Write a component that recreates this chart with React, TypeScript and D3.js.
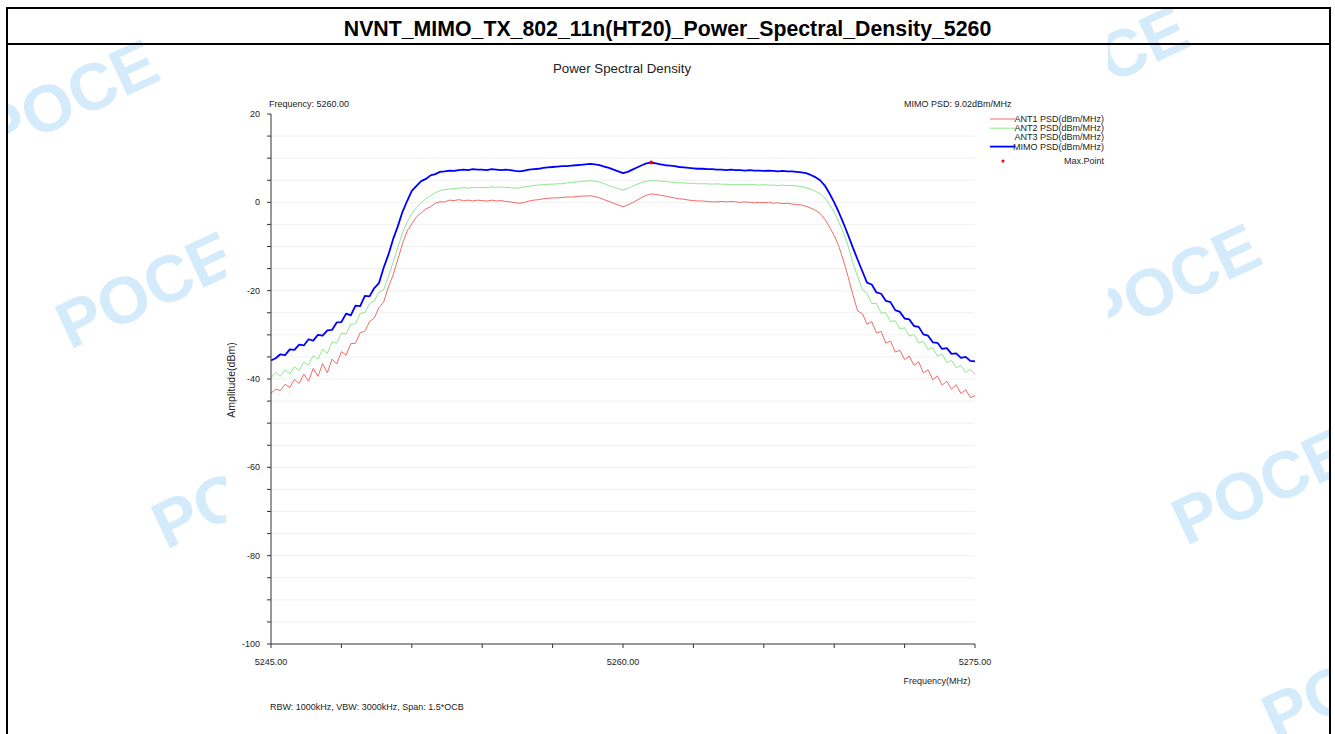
import * as d3 from 'd3'

const TITLE = 'NVNT_MIMO_TX_802_11n(HT20)_Power_Spectral_Density_5260'
const CHART_TITLE = 'Power Spectral Density'
const CENTER_LABEL = 'Frequency: 5260.00'
const PSD_LABEL = 'MIMO PSD: 9.02dBm/MHz'
const FOOTNOTE = 'RBW: 1000kHz, VBW: 3000kHz, Span: 1.5*OCB'

// sweep: 5245 MHz .. 5275 MHz, one point every 0.2 MHz
const FREQ_START = 5245
const FREQ_STEP = 0.2

const ant1 = [
  -43.2, -42.3, -42.6, -41.2, -41.9, -40.1, -41.0, -38.9, -40.5, -37.6, -39.4, -36.5, -38.6, -35.5, -36.6, -33.8,
  -34.6, -32.0, -31.9, -29.5, -29.2, -27.0, -26.2, -23.8, -22.6, -19.2, -16.5, -13.0, -9.4, -6.5, -4.9, -3.3,
  -2.4, -1.5, -1.0, -0.2, 0.1, 0.1, 0.5, 0.4, 0.6,
  0.4, 0.5, 0.3, 0.5, 0.4, 0.3, 0.5, 0.3, 0.4, 0.2, 0.1, -0.1, -0.2, 0.0, 0.3, 0.5, 0.6, 0.8, 0.9, 1.0,
  1.0, 1.1, 1.2, 1.2, 1.3, 1.4, 1.4, 1.5, 1.3, 1.0, 0.6, 0.2, -0.2, -0.6, -1.0, -0.6, -0.1, 0.5, 1.1, 1.6,
  1.9, 1.8, 1.6, 1.4, 1.2, 1.0, 0.8, 0.7, 0.5, 0.4, 0.3, 0.3, 0.2, 0.1, 0.1, 0.2, 0.1, 0.2, 0.1, 0.0,
  0.1, 0.0, -0.1, 0.0, -0.1, 0.0, -0.2, -0.1, -0.3, -0.2, -0.4, -0.5, -0.6, -0.9, -1.3, -1.8, -2.5, -3.8,
  -5.6, -7.5, -10.0, -13.3, -17.0,
  -21.0, -24.6, -25.2, -27.6, -27.0, -29.6, -29.2, -31.9, -31.4, -33.9, -33.5, -35.6, -34.8, -36.9, -36.1,
  -38.6, -37.9, -40.2, -39.3, -41.4, -40.5, -42.3, -41.3, -43.3, -42.4, -44.2, -43.8,
]

const ant2 = [
  -39.7, -38.5, -39.4, -37.9, -38.8, -37.2, -38.1, -36.2, -36.9, -34.7, -35.5, -33.3, -34.2, -31.6, -31.9, -29.6,
  -29.8, -27.6, -27.5, -25.2, -24.9, -23.0, -22.3, -20.4, -19.8,
  -16.9, -13.6, -10.3, -7.0, -4.4, -2.6, -1.2, -0.1, 0.8, 1.5, 2.2, 2.6, 2.9, 3.0, 3.1, 3.2,
  3.3, 3.2, 3.4, 3.3, 3.4, 3.3, 3.5, 3.4, 3.5, 3.4, 3.3, 3.2, 3.3, 3.5, 3.6, 3.8, 3.9, 4.0, 4.1, 4.1,
  4.2, 4.2, 4.4, 4.5, 4.6, 4.7, 4.8, 4.9, 4.8, 4.6, 4.2, 3.8, 3.4, 3.1, 2.8, 3.1, 3.6, 4.1, 4.5, 4.8,
  4.9, 4.9, 4.8, 4.7, 4.6, 4.5, 4.4, 4.4, 4.3, 4.3, 4.2, 4.2, 4.2, 4.1, 4.2, 4.1, 4.1, 4.0, 4.1, 4.0,
  4.0, 4.1, 4.0, 3.9, 4.0, 3.9, 3.9, 3.8, 3.9, 3.8, 3.8, 3.7, 3.6, 3.3, 3.0, 2.5, 2.0, 1.0, -0.5, -2.2,
  -4.5, -7.0, -10.0, -13.8, -16.8, -19.8,
  -20.6, -22.9, -22.9, -25.1, -25.0, -27.0, -26.8, -28.7, -28.4, -30.3, -29.9, -31.8, -31.5, -33.3, -32.9,
  -34.8, -34.4, -36.3, -35.8, -37.5, -36.9, -38.5, -37.8, -38.9,
]

const mimo = [
  -35.8, -35.3, -34.4, -34.6, -33.3, -33.4, -32.2, -32.4, -31.0, -31.3, -30.0, -30.2, -29.0,
  -28.9, -27.2, -27.1, -25.2, -25.6, -23.4, -23.5, -21.2, -21.3, -19.4, -18.3,
  -14.8, -11.9, -8.4, -5.5, -2.2, 0.3, 2.6, 3.7, 4.8, 5.3, 6.1, 6.4, 6.9, 7.0, 7.2, 7.1, 7.3,
  7.4, 7.3, 7.5, 7.4, 7.4, 7.3, 7.5, 7.4, 7.3, 7.4, 7.3, 7.1, 7.0, 7.2, 7.4, 7.5, 7.6, 7.8, 7.9, 8.0,
  8.1, 8.2, 8.2, 8.3, 8.4, 8.5, 8.6, 8.7, 8.6, 8.4, 8.1, 7.8, 7.4, 7.0, 6.6, 6.9, 7.4, 7.9, 8.4, 8.8,
  9.02, 8.8, 8.6, 8.4, 8.3, 8.2, 8.0, 7.9, 7.8, 7.7, 7.6, 7.6, 7.5, 7.5, 7.4, 7.4, 7.3, 7.4, 7.3, 7.3,
  7.2, 7.3, 7.2, 7.2, 7.1, 7.2, 7.1, 7.0, 7.1, 7.0, 7.0, 6.9, 6.8, 6.6, 6.2, 5.7, 5.0, 3.8, 2.0, 0.0,
  -2.3, -4.8, -7.5, -10.3, -13.0, -15.6, -18.2, -18.6, -20.4, -20.7, -22.3, -22.6, -24.4, -24.8, -26.3,
  -26.5, -28.0, -28.2, -29.9, -30.2, -31.7, -31.8, -33.2, -33.0, -34.3, -34.2, -35.2, -35.0, -35.9, -36.0,
]

const xTickLabels = [5245, 5260, 5275]
const yTickLabels = [20, 0, -20, -40, -60, -80, -100]

const legendNames = ['ANT1 PSD(dBm/MHz)', 'ANT2 PSD(dBm/MHz)', 'ANT3 PSD(dBm/MHz)', 'MIMO PSD(dBm/MHz)']
const legendColors = ['#f26a6a', '#8ee88e', '#ffffff', '#0000ff']

const watermarks: [number, number][] = [
  [-6, 158], [70, 350], [166, 550], [1024, 124], [1096, 342], [1186, 546], [1276, 742],
]

const W = 1335
const H = 734
const FONT = '"Liberation Sans", Arial, Helvetica, sans-serif'

export default function App() {
  const x = d3.scaleLinear().domain([5245, 5275]).range([271, 975])
  const y = d3.scaleLinear().domain([-100, 20]).range([644, 114])

  const freqs = mimo.map((_, i) => FREQ_START + i * FREQ_STEP)
  const line = d3.line<number>()
    .x((_, i) => x(freqs[i]))
    .y(d => y(d))

  const series = [
    { values: ant1, color: legendColors[0], width: 1 },
    { values: ant2, color: legendColors[1], width: 1 },
    { values: mimo, color: legendColors[3], width: 1.8 },
  ]

  const maxIdx = d3.maxIndex(mimo)
  const gridValues = d3.range(-95, 20, 5)
  const yMinor = d3.range(-100, 21, 5)
  const xMinor = d3.range(5245, 5275.01, 3)

  return (
    <svg width={W} height={H} style={{ position: 'absolute', left: 0, top: 0, background: '#fff' }}
      fontFamily={FONT}>
      <defs>
        <clipPath id="box"><rect x={7} y={8} width={1322} height={H - 8} /></clipPath>
      </defs>

      {/* watermark layer */}
      <g clipPath="url(#box)">
        {watermarks.map(([wx, wy], i) => (
          <text key={i} x={wx} y={wy} transform={`rotate(-25 ${wx} ${wy})`}
            fontSize={66} fontWeight="bold" fill="#d3ebfa">POCE</text>
        ))}
      </g>

      {/* chart image area */}
      <rect x={226} y={9} width={882} height={H - 9} fill="#fff" />

      {/* grid */}
      {gridValues.map(v => (
        <line key={v} x1={x(5245) + 1} x2={x(5275)} y1={y(v)} y2={y(v)} stroke="#f1f1f1" strokeWidth={1} />
      ))}

      {/* series */}
      {series.map((s, i) => (
        <path key={i} d={line(s.values) ?? ''} fill="none" stroke={s.color} strokeWidth={s.width}
          strokeLinejoin="round" />
      ))}
      <circle cx={x(freqs[maxIdx])} cy={y(mimo[maxIdx])} r={2} fill="#ff0000" />

      {/* axes */}
      <line x1={x(5245)} x2={x(5245)} y1={y(20)} y2={y(-100)} stroke="#333" strokeWidth={1} />
      <line x1={x(5245)} x2={x(5275)} y1={y(-100)} y2={y(-100)} stroke="#333" strokeWidth={1} />
      {yMinor.map(v => (
        <line key={v} x1={x(5245) - 4} x2={x(5245)} y1={y(v)} y2={y(v)} stroke="#333" strokeWidth={1} />
      ))}
      {xMinor.map(v => (
        <line key={v} x1={x(v)} x2={x(v)} y1={y(-100)} y2={y(-100) + 4} stroke="#333" strokeWidth={1} />
      ))}
      {yTickLabels.map(v => (
        <text key={v} x={x(5245) - 11} y={y(v) + 3} textAnchor="end" fontSize={9} fill="#222">{v}</text>
      ))}
      {xTickLabels.map(v => (
        <text key={v} x={x(v)} y={y(-100) + 21} textAnchor="middle" fontSize={9} fill="#222">{v.toFixed(2)}</text>
      ))}

      <text x={937} y={684} textAnchor="middle" fontSize={9} fill="#222">Frequency(MHz)</text>
      <text transform={`translate(235, 380) rotate(-90)`} textAnchor="middle" fontSize={10.5} fill="#222">
        Amplitude(dBm)
      </text>

      <text x={622} y={73} textAnchor="middle" fontSize={13.3} fill="#222">{CHART_TITLE}</text>
      <text x={269} y={107} fontSize={9} fill="#222">{CENTER_LABEL}</text>
      <text x={904} y={107} fontSize={9} fill="#222">{PSD_LABEL}</text>
      <text x={270} y={710} fontSize={9} fill="#222">{FOOTNOTE}</text>

      {/* legend */}
      {legendNames.map((name, i) => (
        <g key={name}>
          <line x1={990} x2={1015} y1={119 + i * 9.2} y2={119 + i * 9.2} stroke={legendColors[i]}
            strokeWidth={i === 3 ? 1.8 : 1} />
          <text x={1104} y={122 + i * 9.2} textAnchor="end" fontSize={9} fill="#222">{name}</text>
        </g>
      ))}
      <circle cx={1003} cy={161} r={1.6} fill="#ff0000" />
      <text x={1104} y={163.5} textAnchor="end" fontSize={9} fill="#222">Max.Point</text>

      {/* outer table frame */}
      <text x={667.5} y={36} textAnchor="middle" fontSize={21.3} fontWeight="bold" fill="#000">{TITLE}</text>
      <line x1={6} x2={1331} y1={8} y2={8} stroke="#000" strokeWidth={2} />
      <line x1={6} x2={1331} y1={44} y2={44} stroke="#000" strokeWidth={2} />
      <line x1={7} x2={7} y1={7} y2={H} stroke="#000" strokeWidth={2} />
      <line x1={1330} x2={1330} y1={7} y2={H} stroke="#000" strokeWidth={2} />
    </svg>
  )
}
